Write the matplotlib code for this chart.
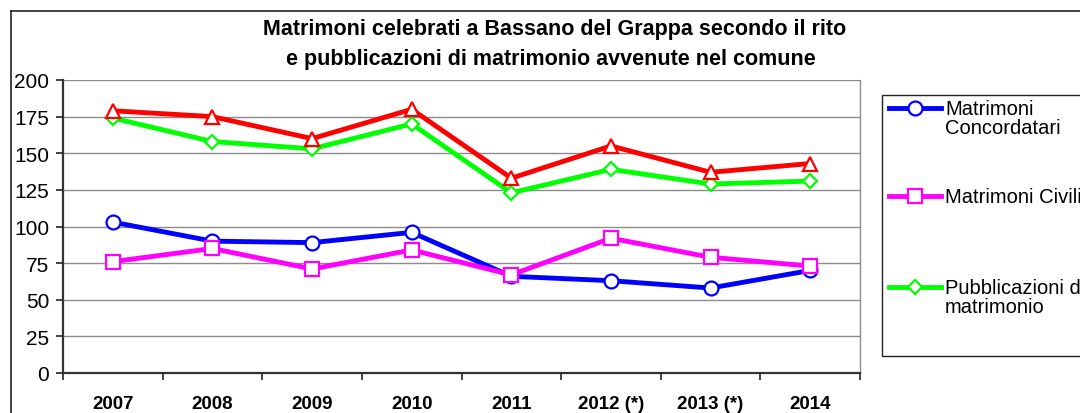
"""
Matrimoni a Bassano del Grappa, 2007-2014
"""
import matplotlib
matplotlib.use("Agg")
import matplotlib.pyplot as plt
from matplotlib.lines import Line2D
from matplotlib.patches import Rectangle

plt.rcParams['font.family'] = ['Liberation Sans', 'DejaVu Sans']

years = ['2007', '2008', '2009', '2010', '2011', '2012 (*)', '2013 (*)', '2014']
concordatari = [103, 90, 89, 96, 66, 63, 58, 70]
civili = [76, 85, 71, 84, 67, 92, 79, 73]
pubblicazioni = [174, 158, 153, 170, 123, 139, 129, 131]
totale = [179, 175, 160, 180, 133, 155, 137, 143]

W, H = 1080, 414


def fx(px):
    return px / W


def fy(py):
    return 1 - py / H


# series style: (values, colour, marker, legend label)
series = [
    (concordatari, '#0000FF', 'o', 'Matrimoni\nConcordatari'),
    (civili, '#FF00FF', 's', 'Matrimoni Civili'),
    (pubblicazioni, '#00FF00', 'D', 'Pubblicazioni di\nmatrimonio'),
    (totale, '#FF0000', '^', None),
]
msizes = {'o': 10, 's': 9.5, 'D': 7.5, '^': 10}

fig = plt.figure(figsize=(W / 100, H / 100), dpi=100)
ax = fig.add_axes([fx(63), fy(374), fx(860) - fx(63), fy(81) - fy(374)])

x = list(range(len(years)))
for vals, col, mk, lab in series:
    ax.plot(x, vals, color=col, lw=3.5, marker=mk, markersize=msizes[mk],
            markerfacecolor='white', markeredgecolor=col, markeredgewidth=1.6,
            clip_on=False)

ax.set_xlim(-0.5, len(years) - 0.5)
ax.set_ylim(0, 200)
ax.set_yticks(range(0, 201, 25))
for v in range(25, 201, 25):
    ax.axhline(v, color='#8c8c8c', lw=1, zorder=0)

# category ticks between labels, labels centred on categories
ax.set_xticks([i - 0.5 for i in range(len(years) + 1)])
ax.set_xticklabels([])
ax.set_xticks(x, minor=True)
ax.set_xticklabels(years, minor=True, fontsize=13.5, fontweight='bold')
ax.tick_params(axis='x', which='major', length=5, width=1.3, color='#333333')
ax.tick_params(axis='x', which='minor', length=0, pad=16)
ax.tick_params(axis='y', length=5, width=1.3, color='#333333', labelsize=15, pad=5)

for s in ['left', 'bottom']:
    ax.spines[s].set_color('#333333')
    ax.spines[s].set_linewidth(1.6)
ax.spines['top'].set_visible(False)
ax.spines['right'].set_color('#8c8c8c')
ax.spines['right'].set_linewidth(1)

# title
fig.text(fx(555), fy(30), 'Matrimoni celebrati a Bassano del Grappa secondo il rito',
         ha='center', va='center', fontsize=15.5, fontweight='bold')
fig.text(fx(551), fy(60), 'e pubblicazioni di matrimonio avvenute nel comune',
         ha='center', va='center', fontsize=15.5, fontweight='bold')

# outer chart border
fig.add_artist(Line2D([fx(11), fx(11)], [fy(12), 0], transform=fig.transFigure,
                      color='#222222', lw=1.2))
fig.add_artist(Line2D([fx(11), 1], [fy(12), fy(12)], transform=fig.transFigure,
                      color='#222222', lw=1.2))

# legend box
fig.add_artist(Rectangle((fx(882), fy(357)), 1 - fx(882) + 0.05, fy(96) - fy(357),
                         transform=fig.transFigure, fill=False, ec='#222222', lw=1))
legend_y = [109, 197, 288]
for (vals, col, mk, lab), ly in zip(series[:3], legend_y):
    fig.add_artist(Line2D([fx(889), fx(941)], [fy(ly), fy(ly)], transform=fig.transFigure,
                          color=col, lw=3.5))
    fig.add_artist(Line2D([fx(915)], [fy(ly)], transform=fig.transFigure,
                          marker=mk, markersize=msizes[mk], markerfacecolor='white',
                          markeredgecolor=col, markeredgewidth=1.6, lw=0))
    fig.text(fx(945), fy(ly - 9), lab, ha='left', va='top', fontsize=14.5,
             linespacing=1.0)

fig.savefig('out.png', dpi=100)
plt.close(fig)
